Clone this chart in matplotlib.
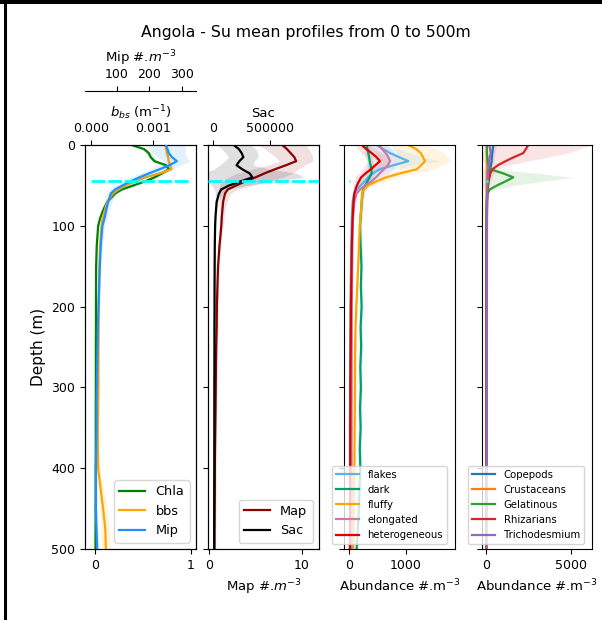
import numpy as np
import matplotlib
matplotlib.use("Agg")
import matplotlib.pyplot as plt
from matplotlib.lines import Line2D
from matplotlib import ticker

# depth grid (m)
depth = [0, 5, 10, 15, 20, 25, 30, 35, 40, 45, 50, 55, 60, 70, 80, 90, 100,
         125, 150, 175, 200, 225, 250, 275, 300, 325, 350, 375, 400, 425, 450, 475, 500]
mld = 45  # mixed layer depth

# panel 1 : Chla (normalised), bbs, Mip
chla = [0.38, 0.51, 0.56, 0.58, 0.62, 0.74, 0.77, 0.70, 0.62, 0.52, 0.40, 0.28, 0.21, 0.13, 0.087, 0.055, 0.033,
        0.018, 0.012, 0.011, 0.010, 0.010, 0.009, 0.009, 0.009, 0.008, 0.008, 0.008, 0.007, 0.007, 0.006, 0.006, 0.005]
chla_sd = [0.03, 0.03, 0.03, 0.03, 0.03, 0.04, 0.04, 0.04, 0.04, 0.03, 0.03, 0.03, 0.02, 0.02, 0.015, 0.01, 0.01,
           0.008, 0.006, 0.005, 0.005, 0.005, 0.005, 0.005, 0.005, 0.005, 0.005, 0.005, 0.005, 0.005, 0.005, 0.005, 0.005]
bbs = [0.00120, 0.00122, 0.00123, 0.00125, 0.00126, 0.00128, 0.00130, 0.00112, 0.00088, 0.00072, 0.00056, 0.00045,
       0.00036, 0.00027, 0.00023, 0.000195, 0.000175, 0.00015, 0.00014, 0.000135, 0.00013, 0.000128, 0.000126,
       0.000125, 0.000125, 0.00012, 0.000115, 0.000115, 0.00012, 0.00016, 0.00020, 0.000235, 0.000245]
bbs_sd = [0.00004, 0.00004, 0.00004, 0.00005, 0.00005, 0.00005, 0.00005, 0.00005, 0.00005, 0.00004, 0.00004, 0.00003,
          0.00003, 0.00002, 0.00002, 0.00002, 0.00002, 0.00001, 0.00001, 0.00001, 0.00001, 0.00001, 0.00001,
          0.00001, 0.00001, 0.00001, 0.00001, 0.00002, 0.00003, 0.00005, 0.00006, 0.00007, 0.00007]
mip = [252, 256, 260, 270, 285, 262, 232, 200, 170, 142, 118, 95, 82, 74, 68, 63, 56,
       51, 48, 46, 44, 42, 41, 40, 39, 38, 38, 37, 36, 36, 36, 38, 40]
mip_sd = [60, 55, 50, 45, 40, 35, 32, 30, 28, 25, 22, 20, 15, 12, 10, 8, 6,
          5, 4, 4, 4, 4, 4, 4, 4, 4, 4, 4, 4, 4, 4, 4, 4]

# panel 2 : Map and Sac
map_ = [7.9, 8.4, 8.8, 9.2, 9.4, 8.3, 7.1, 6.0, 5.0, 3.9, 2.9, 2.0, 1.7, 1.5, 1.42, 1.35, 1.3,
        1.1, 0.95, 0.88, 0.82, 0.80, 0.75, 0.72, 0.70, 0.68, 0.65, 0.62, 0.60, 0.60, 0.58, 0.56, 0.55]
map_sd = [2.5, 2.4, 2.2, 2.0, 1.8, 2.0, 2.5, 3.0, 3.0, 2.5, 1.8, 1.0, 0.6, 0.4, 0.3, 0.25, 0.2,
          0.15, 0.15, 0.15, 0.15, 0.15, 0.15, 0.15, 0.15, 0.15, 0.15, 0.15, 0.15, 0.15, 0.15, 0.15, 0.15]
sac = [180000, 225000, 250000, 265000, 230000, 205000, 255000, 320000, 345000, 240000, 140000, 70000, 50000,
       30000, 24000, 19000, 16000, 13000, 12000, 11000, 11000, 10000, 10000, 10000, 9000, 9000, 9000, 9000,
       9000, 8000, 8000, 8000, 8000]
sac_sd = [150000, 150000, 140000, 130000, 130000, 150000, 250000, 420000, 450000, 300000, 150000, 60000, 30000,
          15000, 10000, 8000, 6000, 5000, 5000, 5000, 5000, 5000, 5000, 5000, 5000, 5000, 5000, 5000,
          5000, 5000, 5000, 5000, 5000]

# panel 3 : particle types (abundance #.m-3)
flakes = [483, 600, 718, 880, 1041, 780, 540, 420, 330, 270, 200, 130, 85, 60, 50, 45, 42,
          35, 30, 25, 20, 18, 16, 15, 14, 13, 12, 12, 12, 11, 11, 10, 10]
flakes_sd = [150, 250, 350, 450, 560, 350, 250, 200, 150, 120, 80, 50, 30, 15, 15, 15, 15,
             12, 10, 10, 10, 10, 10, 10, 10, 10, 10, 10, 10, 10, 10, 10, 10]
dark = [307, 320, 336, 350, 360, 375, 390, 395, 360, 320, 280, 247, 235, 220, 210, 200, 190,
        200, 215, 205, 218, 200, 210, 195, 205, 190, 200, 185, 195, 180, 170, 150, 130]
dark_sd = [60, 60, 60, 60, 60, 60, 60, 60, 60, 55, 50, 45, 40, 35, 30, 30, 30,
           30, 30, 30, 30, 30, 30, 30, 30, 30, 30, 30, 30, 30, 30, 30, 30]
fluffy = [1041, 1180, 1260, 1300, 1335, 1270, 1189, 900, 650, 480, 330, 260, 225, 219, 210, 195, 185,
          170, 158, 140, 125, 110, 105, 100, 100, 98, 95, 92, 90, 85, 80, 75, 70]
fluffy_sd = [300, 380, 420, 440, 440, 380, 300, 250, 200, 150, 100, 60, 40, 25, 25, 25, 25,
             20, 20, 20, 20, 20, 20, 20, 20, 20, 20, 20, 20, 20, 20, 20, 20]
elongated = [510, 580, 640, 690, 718, 680, 610, 540, 470, 390, 280, 190, 130, 90, 75, 65, 60,
             55, 50, 48, 45, 44, 43, 42, 42, 41, 41, 40, 40, 40, 40, 40, 40]
elongated_sd = [150, 160, 170, 180, 180, 170, 160, 150, 140, 110, 80, 50, 30, 20, 15, 15, 15,
                12, 10, 10, 10, 10, 10, 10, 10, 10, 10, 10, 10, 10, 10, 10, 10]
hetero = [219, 300, 395, 480, 541, 460, 380, 290, 210, 170, 135, 110, 90, 75, 68, 60, 55,
          45, 40, 35, 30, 28, 25, 22, 20, 20, 18, 17, 16, 15, 14, 13, 12]
hetero_sd = [120, 150, 180, 200, 200, 180, 150, 120, 100, 80, 60, 40, 30, 20, 15, 15, 15,
             10, 10, 10, 10, 10, 10, 10, 10, 10, 10, 10, 10, 10, 10, 10, 10]

# panel 4 : living organisms (abundance #.m-3)
copepods = [430, 400, 370, 345, 330, 290, 240, 200, 160, 130, 100, 80, 65, 50, 40, 35, 30,
            28, 26, 25, 24, 23, 22, 22, 21, 21, 20, 20, 20, 20, 20, 20, 20]
copepods_sd = [200, 180, 160, 150, 140, 120, 100, 80, 60, 50, 40, 30, 25, 20, 15, 15, 15,
               10, 10, 10, 10, 10, 10, 10, 10, 10, 10, 10, 10, 10, 10, 10, 10]
crustaceans = [60, 55, 50, 48, 45, 42, 40, 38, 36, 34, 32, 30, 28, 26, 25, 24, 23,
               22, 22, 21, 21, 20, 20, 20, 20, 20, 20, 20, 20, 20, 20, 20, 20]
crustaceans_sd = [40, 40, 35, 35, 30, 30, 30, 25, 25, 25, 20, 20, 20, 15, 15, 15, 15,
                  10, 10, 10, 10, 10, 10, 10, 10, 10, 10, 10, 10, 10, 10, 10, 10]
gelatinous = [40, 45, 55, 70, 100, 150, 260, 1000, 1610, 1150, 650, 220, 80, 40, 30, 28, 26,
              25, 24, 23, 22, 22, 21, 21, 20, 20, 20, 20, 20, 20, 20, 20, 20]
gelatinous_sd = [30, 30, 30, 40, 60, 100, 300, 2000, 3500, 2200, 1000, 300, 80, 30, 20, 20, 20,
                 15, 15, 15, 15, 15, 15, 15, 15, 15, 15, 15, 15, 15, 15, 15, 15]
rhizarians = [2500, 2350, 2200, 1650, 1150, 700, 380, 260, 200, 150, 125, 100, 80, 65, 55, 50, 45,
              40, 38, 36, 35, 34, 33, 32, 32, 31, 31, 30, 30, 30, 30, 30, 30]
rhizarians_sd = [3800, 3200, 2600, 2000, 1300, 600, 300, 200, 150, 100, 80, 60, 50, 40, 40, 40, 40,
                 30, 30, 30, 30, 30, 30, 30, 30, 30, 30, 30, 30, 30, 30, 30, 30]
tricho = [195, 240, 280, 220, 180, 150, 130, 120, 110, 100, 90, 80, 75, 70, 65, 60, 58,
          55, 54, 53, 52, 52, 51, 51, 50, 50, 50, 50, 50, 50, 50, 50, 50]
tricho_sd = [60, 60, 60, 50, 40, 30, 25, 20, 20, 15, 15, 15, 10, 10, 10, 10, 10,
             8, 8, 8, 8, 8, 8, 8, 8, 8, 8, 8, 8, 8, 8, 8, 8]

particle_names = ["flakes", "dark", "fluffy", "elongated", "heterogeneous"]
particle_colors = ["#56B4E9", "#009E73", "#FFA500", "#CC79A7", "#DD0000"]
living_names = ["Copepods", "Crustaceans", "Gelatinous", "Rhizarians", "Trichodesmium"]
living_colors = ["tab:blue", "tab:orange", "tab:green", "tab:red", "tab:purple"]

TICK = 9
LAB = 9.5


def profile(ax, x, sd, color, label, alpha=0.12):
    x = np.array(x, dtype=float)
    sd = np.array(sd, dtype=float)
    ax.fill_betweenx(depth, x - sd, x + sd, color=color, alpha=alpha, lw=0)
    line, = ax.plot(x, depth, color=color, lw=1.6, label=label)
    return line


def mld_line(ax, x0=0.0, x1=1.0):
    ax.axhline(mld, xmin=x0, xmax=x1, color="cyan", lw=2, dashes=(5, 1), zorder=5)


fig = plt.figure(figsize=(6.02, 6.2), dpi=100)
bottom, height = 0.1145, 0.6516
ax1 = fig.add_axes([0.1412, bottom, 0.1844, height])
ax2 = fig.add_axes([0.3455, bottom, 0.1844, height])
ax3 = fig.add_axes([0.5714, bottom, 0.1844, height])
ax4 = fig.add_axes([0.8007, bottom, 0.1827, height])

# ---- panel 1
ax1b = ax1.twiny()
ax1c = ax1.twiny()
l1 = profile(ax1, chla, chla_sd, "green", "Chla")
l2 = profile(ax1b, bbs, bbs_sd, "orange", "bbs")
l3 = profile(ax1c, mip, mip_sd, "dodgerblue", "Mip")
mld_line(ax1c, 0.05, 0.95)
ax1.set_xlim(-0.104, 1.052)
ax1.set_xticks([0, 1])
ax1.xaxis.set_major_formatter(ticker.FormatStrFormatter("%g"))
ax1b.set_xlim(-0.000092, 0.0017)
ax1b.set_xticks([0, 0.001])
ax1b.xaxis.set_major_formatter(ticker.FormatStrFormatter("%.3f"))
ax1b.set_xlabel("$b_{bs}$ (m$^{-1}$)", fontsize=LAB)
ax1c.set_xlim(2.5, 344)
ax1c.set_xticks([100, 200, 300])
ax1c.spines["top"].set_position(("outward", 39))
for s in ["left", "right", "bottom"]:
    ax1c.spines[s].set_visible(False)
ax1c.set_xlabel("Mip #.$m^{-3}$", fontsize=LAB)
ax1.set_ylabel("Depth (m)", fontsize=11)
ax1c.legend(handles=[l1, l2, l3], loc="lower right", fontsize=9.3)

# ---- panel 2
ax2b = ax2.twiny()
m1 = profile(ax2, map_, map_sd, "darkred", "Map")
m2 = profile(ax2b, sac, sac_sd, "black", "Sac")
mld_line(ax2b)
ax2.set_xlim(-0.14, 11.87)
ax2.set_xticks([0, 10])
ax2.set_xlabel("Map #.$m^{-3}$", fontsize=LAB)
ax2b.set_xlim(-46700, 932000)
ax2b.set_xticks([0, 500000])
ax2b.xaxis.set_major_formatter(ticker.FormatStrFormatter("%d"))
ax2b.set_xlabel("Sac", fontsize=LAB)
ax2b.legend(handles=[m1, m2], loc="lower right", fontsize=9.3)

# ---- panel 3
p3 = [flakes, dark, fluffy, elongated, hetero]
p3_sd = [flakes_sd, dark_sd, fluffy_sd, elongated_sd, hetero_sd]
for vals, sd, c, n in zip(p3, p3_sd, particle_colors, particle_names):
    profile(ax3, vals, sd, c, n)
ax3.hlines(mld, 0, 12, color="cyan", lw=2, zorder=5)
ax3.set_xlim(-93, 1864)
ax3.set_xticks([0, 1000])
ax3.set_xlabel("Abundance #.m$^{-3}$", fontsize=LAB)
ax3.legend(loc="lower left", bbox_to_anchor=(-0.11, 0.012), borderaxespad=0,
           fontsize=7.3, handlelength=2.3)

# ---- panel 4
p4 = [copepods, crustaceans, gelatinous, rhizarians, tricho]
p4_sd = [copepods_sd, crustaceans_sd, gelatinous_sd, rhizarians_sd, tricho_sd]
for vals, sd, c, n in zip(p4, p4_sd, living_colors, living_names):
    profile(ax4, vals, sd, c, n)
ax4.hlines(mld, 0, 120, color="cyan", lw=2, zorder=5)
ax4.set_xlim(-236, 6257)
ax4.set_xticks([0, 5000])
ax4.set_xlabel("Abundance #.m$^{-3}$", fontsize=LAB)
ax4.legend(loc="lower left", bbox_to_anchor=(-0.127, 0.012), borderaxespad=0,
           fontsize=7.3, handlelength=2.3)

for ax in [ax1, ax2, ax3, ax4]:
    ax.set_ylim(500, 0)
    ax.tick_params(labelsize=TICK)
    if ax is not ax1:
        ax.tick_params(labelleft=False)
for ax in [ax1b, ax1c, ax2b]:
    ax.tick_params(labelsize=TICK)

fig.suptitle("Angola - Su mean profiles from 0 to 500m", x=0.508, y=0.947,
             va="center", fontsize=11.3)

# frame edges visible in the original
fig.add_artist(Line2D([0.0091, 0.0091], [0, 1], transform=fig.transFigure, color="black", lw=2.2))
fig.add_artist(Line2D([0, 1], [0.9968, 0.9968], transform=fig.transFigure, color="black", lw=2.9))

fig.savefig("out.png", dpi=100)
